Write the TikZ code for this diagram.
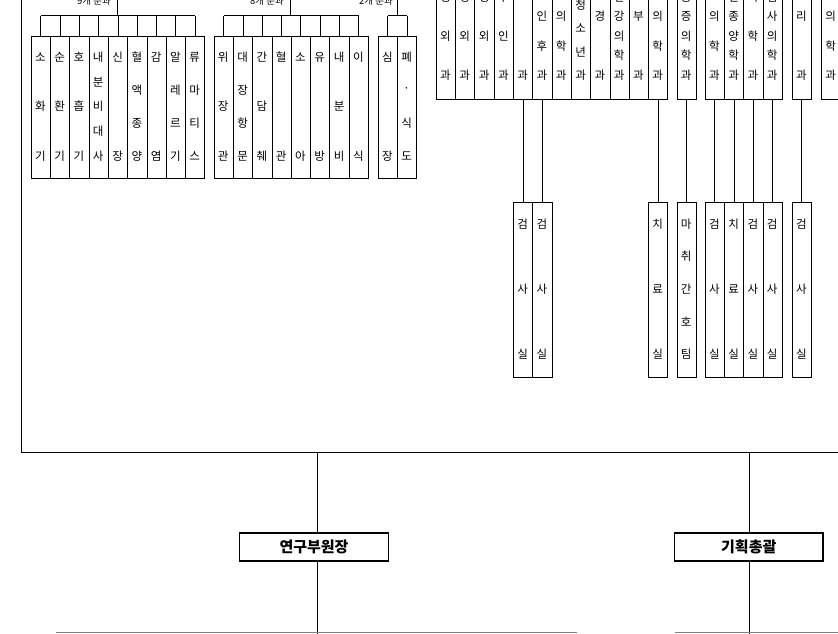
\documentclass[tikz,border=0pt]{standalone}
\usepackage{fontspec}
\setmainfont{Noto Sans CJK KR}
\def\W{19.3}
\tikzset{
  cb/.style={draw, line width=0.85pt, inner sep=0pt, minimum width=\W pt, anchor=north west},
  ch/.style={inner sep=0pt, font=\fontsize{11.5}{11.5}\selectfont},
  ln/.style={line width=0.85pt},
  lbl/.style={inner sep=0pt, font=\fontsize{9.5}{9.5}\selectfont, anchor=east},
  bigbox/.style={draw, line width=1.2pt, minimum width=148.5pt, minimum height=28pt, inner sep=0pt, font=\fontsize{15}{15}\selectfont\bfseries},
}
% #1 name, #2 x left, #3 top, #4 bottom, #5 first char y, #6 last char y, #7 count, #8 chars
\newcommand\colbox[8]{%
  \pgfmathsetmacro\hh{#4-(#3)}%
  \node[cb, minimum height=\hh pt] (#1) at (#2,#3) {};
  \foreach \c [count=\i] in {#8} {
    \pgfmathsetmacro\yy{#5+(\i-1)*(#6-(#5))/(#7-1)}
    \node[ch] (#1-\i) at (#2+\W/2,\yy) {\c};
  }
}
\begin{document}
\begin{tikzpicture}[x=1pt,y=-1pt]
\useasboundingbox (0,0) rectangle (838,633);
\clip (0,0) rectangle (838,633);
% ---------- left groups ----------
\colbox{a1}{30.7}{36}{178}{57}{156}{3}{소,화,기}
\colbox{a2}{50.0}{36}{178}{57}{156}{3}{순,환,기}
\colbox{a3}{69.3}{36}{178}{57}{156}{3}{호,흡,기}
\colbox{a4}{88.6}{36}{178}{57}{156}{5}{내,분,비,대,사}
\colbox{a5}{107.9}{36}{178}{57}{156}{2}{신,장}
\colbox{a6}{127.2}{36}{178}{57}{156}{4}{혈,액,종,양}
\colbox{a7}{146.5}{36}{178}{57}{156}{2}{감,염}
\colbox{a8}{165.8}{36}{178}{57}{156}{4}{알,레,르,기}
\colbox{a9}{185.1}{36}{178}{57}{156}{4}{류,마,티,스}
\colbox{b1}{213.6}{36}{178}{57}{156}{3}{위,장,관}
\colbox{b2}{232.9}{36}{178}{57}{156}{4}{대,장,항,문}
\colbox{b3}{252.2}{36}{178}{57}{156}{3}{간,담,췌}
\colbox{b4}{271.5}{36}{178}{57}{156}{2}{혈,관}
\colbox{b5}{290.8}{36}{178}{57}{156}{2}{소,아}
\colbox{b6}{310.1}{36}{178}{57}{156}{2}{유,방}
\colbox{b7}{329.4}{36}{178}{57}{156}{3}{내,분,비}
\colbox{b8}{348.7}{36}{178}{57}{156}{2}{이,식}
\colbox{c1}{377.7}{36}{178}{57}{156}{2}{심,장}
\colbox{c2}{397.0}{36}{178}{57}{156}{4}{폐,·,식,도}
% brackets
\coordinate (ba) at (117.55,15.7);
\coordinate (bb) at (290.8,15.7);
\coordinate (bc) at (397.0,15.7);
\draw[ln] (ba) -- (ba |- 0,-5);
\draw[ln] (bb) -- (bb |- 0,-5);
\draw[ln] (bc) -- (bc |- 0,-5);
\draw[ln] (a1.north |- ba) -- (a9.north |- ba);
\draw[ln] (b1.north |- bb) -- (b8.north |- bb);
\draw[ln] (c1.north |- bc) -- (c2.north |- bc);
\foreach \n in {a1,a2,a3,a4,a5,a6,a7,a8,a9} \draw[ln] (\n.north) -- (\n.north |- ba);
\foreach \n in {b1,b2,b3,b4,b5,b6,b7,b8} \draw[ln] (\n.north) -- (\n.north |- bb);
\foreach \n in {c1,c2} \draw[ln] (\n.north) -- (\n.north |- bc);
\node[lbl] (la) at (111,0.5) {9개 분과};
\node[lbl] (lb) at (284,0.5) {8개 분과};
\node[lbl] (lc) at (393,0.5) {2개 분과};
% ---------- right groups (tops cut) ----------
\colbox{r1}{435.8}{-64}{99}{-42}{75}{4}{정,형,외,과}
\colbox{r2}{455.1}{-64}{99}{-42}{75}{4}{신,경,외,과}
\colbox{r3}{474.4}{-64}{99}{-42}{75}{4}{성,형,외,과}
\colbox{r4}{493.7}{-64}{99}{-42}{75}{4}{산,부,인,과}
\colbox{r5}{513.0}{-64}{99}{-42}{75}{2}{안,과}
\colbox{r6}{532.3}{-64}{99}{-42}{75}{5}{이,비,인,후,과}
\colbox{r7}{551.6}{-64}{99}{-42}{75}{5}{응,급,의,학,과}
\colbox{r8}{570.9}{-64}{99}{-42}{75}{6}{소,아,청,소,년,과}
\colbox{r9}{590.2}{-64}{99}{-42}{75}{3}{신,경,과}
\colbox{r10}{609.5}{-64}{99}{-42}{75}{7}{정,신,건,강,의,학,과}
\colbox{r11}{628.8}{-64}{99}{-42}{75}{3}{피,부,과}
\colbox{r12}{648.1}{-64}{99}{-42}{75}{5}{재,활,의,학,과}
\colbox{s1}{676.5}{-64}{99}{-42}{75}{7}{마,취,통,증,의,학,과}
\colbox{t1}{704.7}{-64}{99}{-42}{75}{5}{영,상,의,학,과}
\colbox{t2}{724.0}{-64}{99}{-42}{75}{7}{방,사,선,종,양,학,과}
\colbox{t3}{743.3}{-64}{99}{-42}{75}{4}{핵,의,학,과}
\colbox{t4}{762.6}{-64}{99}{-42}{75}{7}{진,단,검,사,의,학,과}
\colbox{u1}{791.7}{-64}{99}{-42}{75}{3}{병,리,과}
\colbox{v1}{821.0}{-64}{99}{-42}{75}{5}{가,정,의,학,과}
% ---------- lower boxes ----------
\colbox{d5}{513.0}{202}{377}{224}{354}{3}{검,사,실}
\colbox{d6}{532.3}{202}{377}{224}{354}{3}{검,사,실}
\colbox{d12}{648.1}{202}{377}{224}{354}{3}{치,료,실}
\colbox{ds1}{676.5}{202}{377}{224}{354}{5}{마,취,간,호,팀}
\colbox{dt1}{704.7}{202}{377}{224}{354}{3}{검,사,실}
\colbox{dt2}{724.0}{202}{377}{224}{354}{3}{치,료,실}
\colbox{dt3}{743.3}{202}{377}{224}{354}{3}{검,사,실}
\colbox{dt4}{762.6}{202}{377}{224}{354}{3}{검,사,실}
\colbox{du1}{791.7}{202}{377}{224}{354}{3}{검,사,실}
\draw[ln] (r5.south) -- (d5.north);
\draw[ln] (r6.south) -- (d6.north);
\draw[ln] (r12.south) -- (d12.north);
\draw[ln] (s1.south) -- (ds1.north);
\draw[ln] (t1.south) -- (dt1.north);
\draw[ln] (t2.south) -- (dt2.north);
\draw[ln] (t3.south) -- (dt3.north);
\draw[ln] (t4.south) -- (dt4.north);
\draw[ln] (u1.south) -- (du1.north);
% ---------- frame and lower level ----------
\coordinate (ftop) at (21.5,-5);
\coordinate (fcorner) at (21.5,452);
\coordinate (fright) at (845,452);
\draw[ln] (ftop) -- (fcorner) -- (fright);
\node[bigbox] (vp) at (314,547) {연구부원장};
\node[bigbox] (plan) at (748.75,547) {기획총괄};
\coordinate (vptop) at (317,452);
\coordinate (vpbot) at (317,640);
\coordinate (pltop) at (749.3,452);
\coordinate (plbot) at (749.3,640);
\draw[ln] (vptop) -- (vptop |- vp.north);
\draw[ln] (vptop |- vp.south) -- (vpbot);
\draw[ln] (pltop) -- (pltop |- plan.north);
\draw[ln] (pltop |- plan.south) -- (plbot);
\coordinate (h1a) at (56,632.3);
\coordinate (h1b) at (577,632.3);
\coordinate (h2a) at (674.5,632.3);
\coordinate (h2b) at (845,632.3);
\draw[ln, gray] (h1a) -- (h1b);
\draw[ln, gray] (h2a) -- (h2b);
\end{tikzpicture}
\end{document}
